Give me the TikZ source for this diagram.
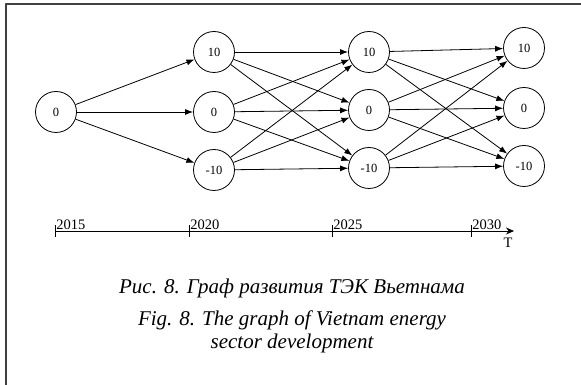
\documentclass[tikz,border=0pt]{standalone}
\usepackage{fontspec}
\setmainfont{Liberation Serif}
\usetikzlibrary{arrows.meta}
\usetikzlibrary{shapes}

\begin{document}
\begin{tikzpicture}[>={Latex[length=8bp,width=6bp]},line join=bevel,line width=0.8bp,
  state/.style={draw,circle,minimum size=41bp,inner sep=0pt,font=\fontsize{12.5bp}{14bp}\selectfont},
  year/.style={anchor=south west,inner sep=1bp,font=\fontsize{14.5bp}{16bp}\selectfont}]
\useasboundingbox (0bp,0bp) rectangle (581bp,385bp);
%% frame
\draw [line width=1.6bp,black!75] (6bp,0bp) -- (6bp,381bp) -- (581bp,381bp);
%%
\node (node_0) at (56bp,273bp) [state] {0};
  \node (node_1) at (214bp,333bp) [state] {10};
  \node (node_2) at (214bp,273bp) [state] {0};
  \node (node_3) at (214bp,215bp) [state] {-10};
  \node (node_4) at (369bp,333bp) [state] {10};
  \node (node_5) at (369bp,275bp) [state] {0};
  \node (node_6) at (369bp,217bp) [state] {-10};
  \node (node_7) at (524bp,337bp) [state] {10};
  \node (node_8) at (524bp,277bp) [state] {0};
  \node (node_9) at (524bp,219bp) [state] {-10};
  \draw [black,->] (node_0) -- (node_1);
  \draw [black,->] (node_0) -- (node_2);
  \draw [black,->] (node_0) -- (node_3);
  \draw [black,->] (node_1) -- (node_4);
  \draw [black,->] (node_1) -- (node_5);
  \draw [black,->] (node_1) -- (node_6);
  \draw [black,->] (node_2) -- (node_4);
  \draw [black,->] (node_2) -- (node_5);
  \draw [black,->] (node_2) -- (node_6);
  \draw [black,->] (node_3) -- (node_4);
  \draw [black,->] (node_3) -- (node_5);
  \draw [black,->] (node_3) -- (node_6);
  \draw [black,->] (node_4) -- (node_7);
  \draw [black,->] (node_4) -- (node_8);
  \draw [black,->] (node_4) -- (node_9);
  \draw [black,->] (node_5) -- (node_7);
  \draw [black,->] (node_5) -- (node_8);
  \draw [black,->] (node_5) -- (node_9);
  \draw [black,->] (node_6) -- (node_7);
  \draw [black,->] (node_6) -- (node_8);
  \draw [black,->] (node_6) -- (node_9);
%% time axis
\coordinate (t_0) at (55bp,154bp);
  \coordinate (t_1) at (189bp,154bp);
  \coordinate (t_2) at (332bp,154bp);
  \coordinate (t_3) at (471bp,154bp);
  \coordinate (t_end) at (514bp,154bp);
  \draw [black,-{Stealth[length=8bp,width=7bp]}] (t_0) -- (t_end);
  \draw [black] ([yshift=-6bp]t_0) -- ([yshift=6bp]t_0);
  \draw [black] ([yshift=-6bp]t_1) -- ([yshift=6bp]t_1);
  \draw [black] ([yshift=-6bp]t_2) -- ([yshift=6bp]t_2);
  \draw [black] ([yshift=-6bp]t_3) -- ([yshift=6bp]t_3);
  \node (y_0) at (t_0) [year] {2015};
  \node (y_1) at (t_1) [year] {2020};
  \node (y_2) at (t_2) [year] {2025};
  \node (y_3) at (t_3) [year] {2030};
  \node (t_lab) at ([xshift=-6bp,yshift=-12bp]t_end) [font=\fontsize{14.5bp}{16bp}\selectfont] {T};
%% caption
\node (cap_ru) at (292bp,97bp) [font=\fontsize{21bp}{24bp}\selectfont\itshape] {Рис. 8. Граф развития ТЭК Вьетнама};
  \node (cap_en) at (292bp,53bp) [align=center,font=\fontsize{21bp}{23bp}\selectfont\itshape] {Fig. 8. The graph of Vietnam energy\\sector development};
%
\end{tikzpicture}
\end{document}
